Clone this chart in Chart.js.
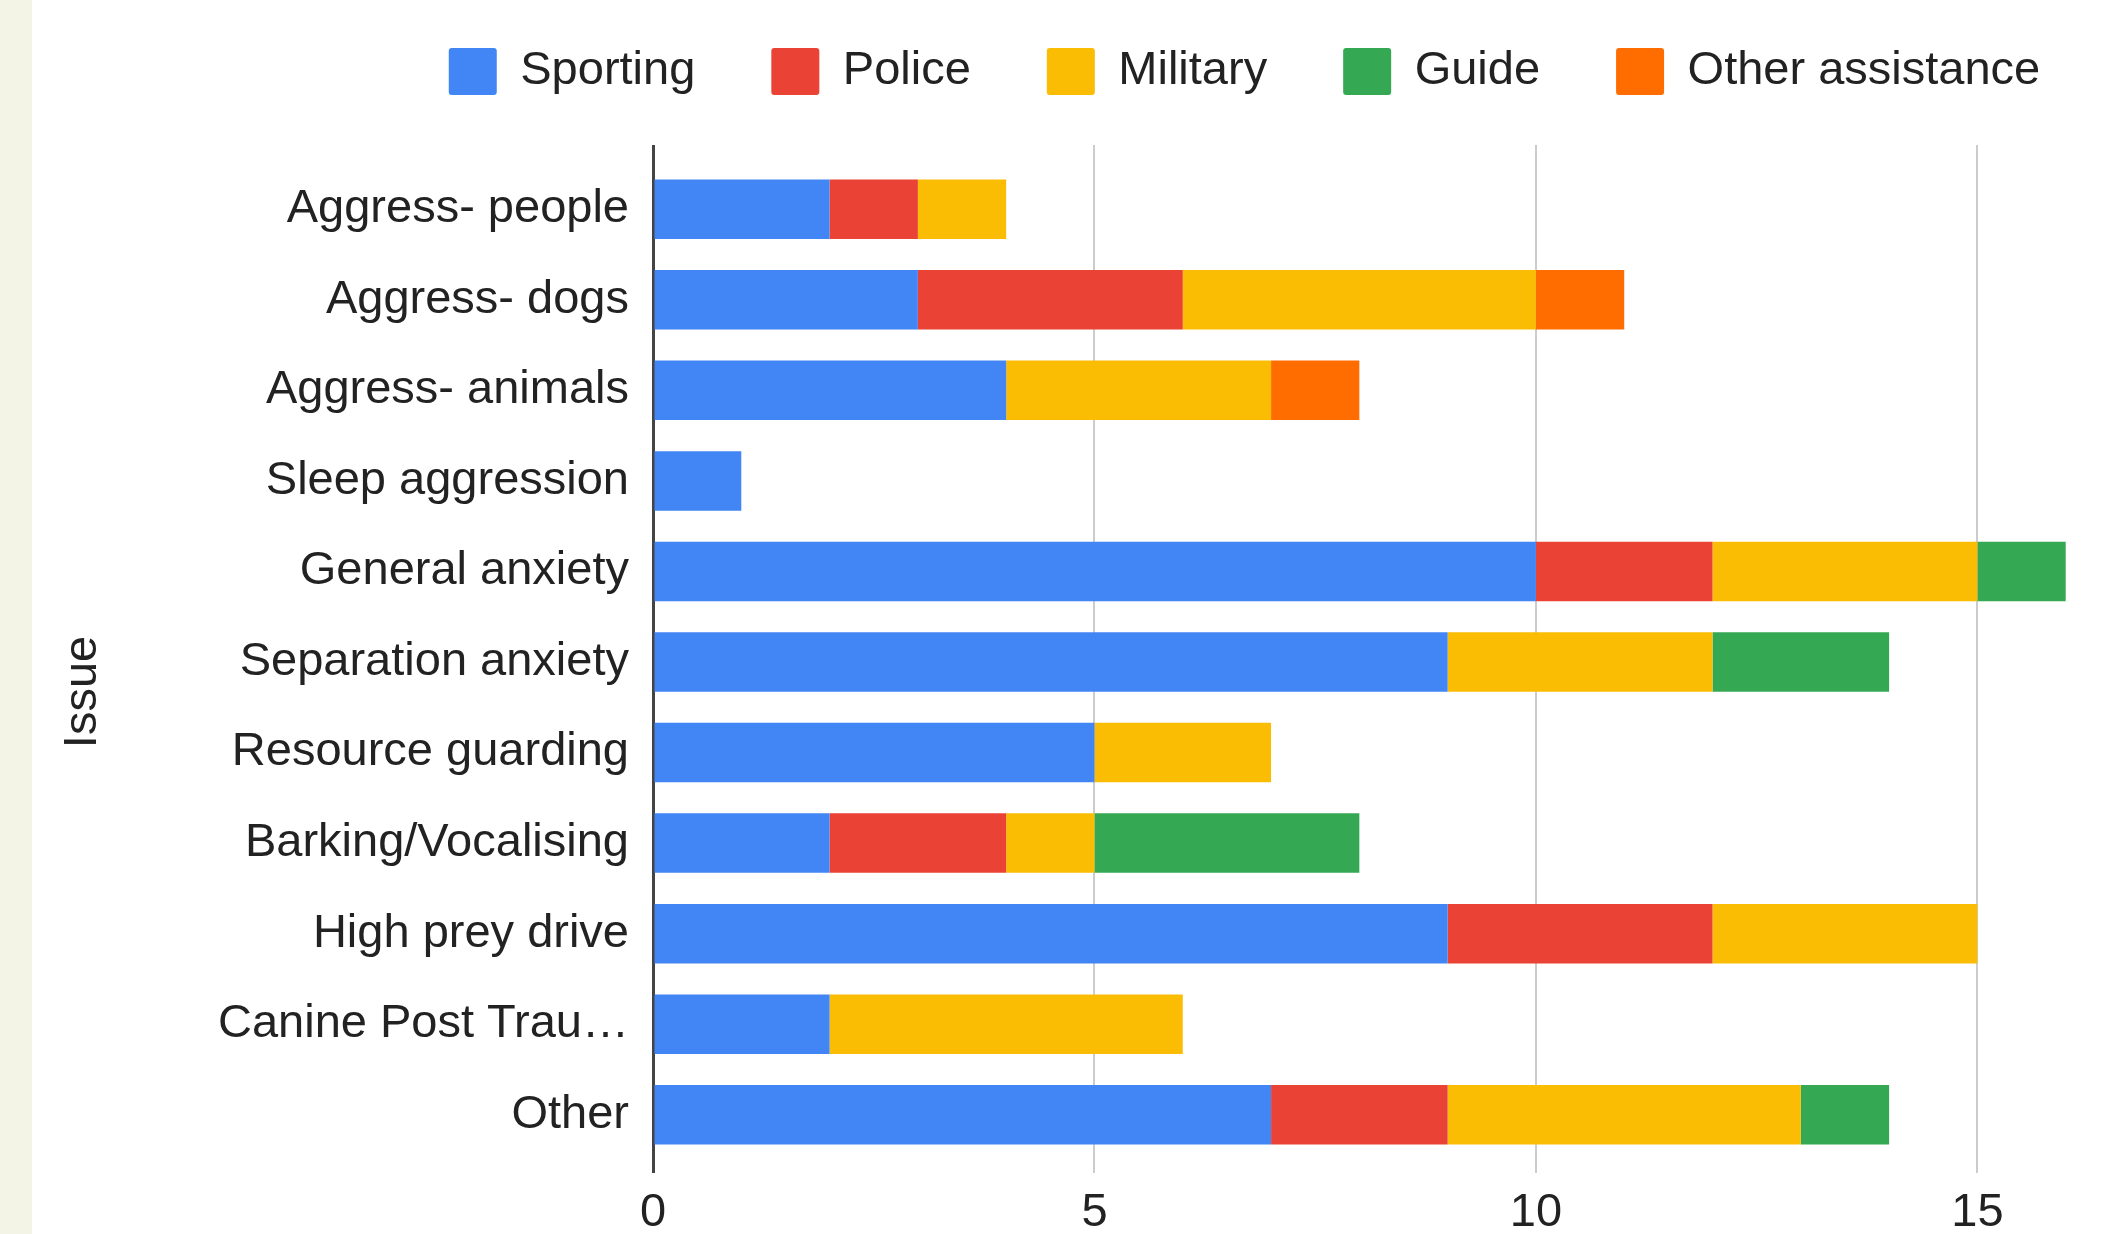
<!DOCTYPE html>
<html>
<head>
<meta charset="utf-8">
<title>Issue by dog type</title>
<script src="https://cdn.jsdelivr.net/npm/chart.js@4.4.1/dist/chart.umd.min.js"></script>
<style>
  html, body { margin: 0; padding: 0; width: 2114px; height: 1234px; overflow: hidden; background: #f3f4e6; }
  #panel { position: absolute; left: 32px; top: 0; width: 2082px; height: 1234px; background: #fff; overflow: hidden; }
  #wrap { position: absolute; left: 0; top: -28px; width: 2425px; height: 1269px; }
</style>
</head>
<body>
<div id="panel"><div id="wrap"><canvas id="chart"></canvas></div></div>
<script>
// Categories (y axis) and series values
const issues = [
    'Aggress- people', 'Aggress- dogs', 'Aggress- animals', 'Sleep aggression',
    'General anxiety', 'Separation anxiety', 'Resource guarding', 'Barking/Vocalising',
    'High prey drive', 'Canine Post Trau\u2026', 'Other'
];
const seriesNames = ['Sporting', 'Police', 'Military', 'Guide', 'Other assistance'];
const seriesColors = ['#4285f4', '#ea4335', '#fbbc04', '#34a853', '#ff6d01'];

const sporting = [2, 3, 4, 1, 10, 9, 5, 2, 9, 2, 7];
const police = [1, 3, 0, 0, 2, 0, 0, 2, 3, 0, 2];
const military = [1, 4, 3, 0, 3, 3, 2, 1, 3, 4, 4];
const guide = [0, 0, 0, 0, 1, 2, 0, 3, 0, 0, 1];
const otherAssistance = [0, 1, 1, 0, 0, 0, 0, 0, 0, 0, 0];

const xTicks = [0, 5, 10, 15, 20];
const axisTitle = 'Issue';

const FONT = '"Liberation Sans", Arial, sans-serif';
const TEXT = '#222222';
Chart.defaults.font.family = FONT;
Chart.defaults.color = TEXT;

// axis line at 0 is dark, the other gridlines light grey
const gridColor = (c) => (c.tick && c.tick.value === 0 ? '#444444' : '#cccccc');
const gridWidth = (c) => (c.tick && c.tick.value === 0 ? 3 : 2);

// y axis title, drawn a little below the middle like the original
const yTitle = {
    id: 'yTitle',
    afterDraw(chart) {
        const { ctx, chartArea, scales } = chart;
        ctx.save();
        ctx.font = '47px ' + FONT;
        ctx.fillStyle = TEXT;
        ctx.textAlign = 'center';
        ctx.textBaseline = 'middle';
        ctx.translate(scales.y.left + 23.5, (chartArea.top + chartArea.bottom) / 2 + 30);
        ctx.rotate(-Math.PI / 2);
        ctx.fillText(axisTitle, 0, 0);
        ctx.restore();
    }
};

const values = [sporting, police, military, guide, otherAssistance];
const datasets = seriesNames.map((name, i) => ({
    label: name,
    data: values[i],
    backgroundColor: seriesColors[i],
    borderWidth: 0,
    barPercentage: 0.657,
    categoryPercentage: 1
}));

const ctx = document.getElementById('chart').getContext('2d');
new Chart(ctx, {
    type: 'bar',
    data: { labels: issues, datasets: datasets },
    plugins: [yTitle],
    options: {
        indexAxis: 'y',
        responsive: true,
        maintainAspectRatio: false,
        devicePixelRatio: 1,
        animation: false,
        layout: { padding: { left: 28, right: 28, top: 0, bottom: 0 } },
        plugins: {
            tooltip: { enabled: false },
            legend: {
                position: 'top',
                align: 'center',
                labels: {
                    boxWidth: 48,
                    boxHeight: 47,
                    padding: 76,
                    useBorderRadius: true,
                    borderRadius: 3,
                    color: TEXT,
                    font: { size: 47 }
                }
            }
        },
        scales: {
            x: {
                type: 'linear',
                stacked: true,
                position: 'bottom',
                min: xTicks[0],
                max: xTicks[xTicks.length - 1],
                afterBuildTicks: (s) => { s.ticks = xTicks.map(v => ({ value: v })); },
                ticks: { padding: 12, color: TEXT, font: { size: 47 } },
                grid: { color: gridColor, lineWidth: gridWidth, drawTicks: true, tickLength: 13 },
                border: { display: false },
                afterFit: (s) => { s.height = 81; }
            },
            x2: {
                type: 'linear',
                axis: 'x',
                position: 'top',
                min: xTicks[0],
                max: xTicks[xTicks.length - 1],
                afterBuildTicks: (s) => { s.ticks = xTicks.map(v => ({ value: v })); },
                ticks: { display: false },
                grid: { color: gridColor, lineWidth: gridWidth, drawOnChartArea: false, drawTicks: true, tickLength: 19 },
                border: { display: false },
                afterFit: (s) => { s.height = 59; }
            },
            y: {
                stacked: true,
                grid: { display: false, drawTicks: false },
                border: { display: false },
                ticks: { padding: 24, color: TEXT, font: { size: 47 } },
                title: { display: false },
                afterFit: (s) => { s.width = 593; }
            }
        }
    }
});
</script>
</body>
</html>
